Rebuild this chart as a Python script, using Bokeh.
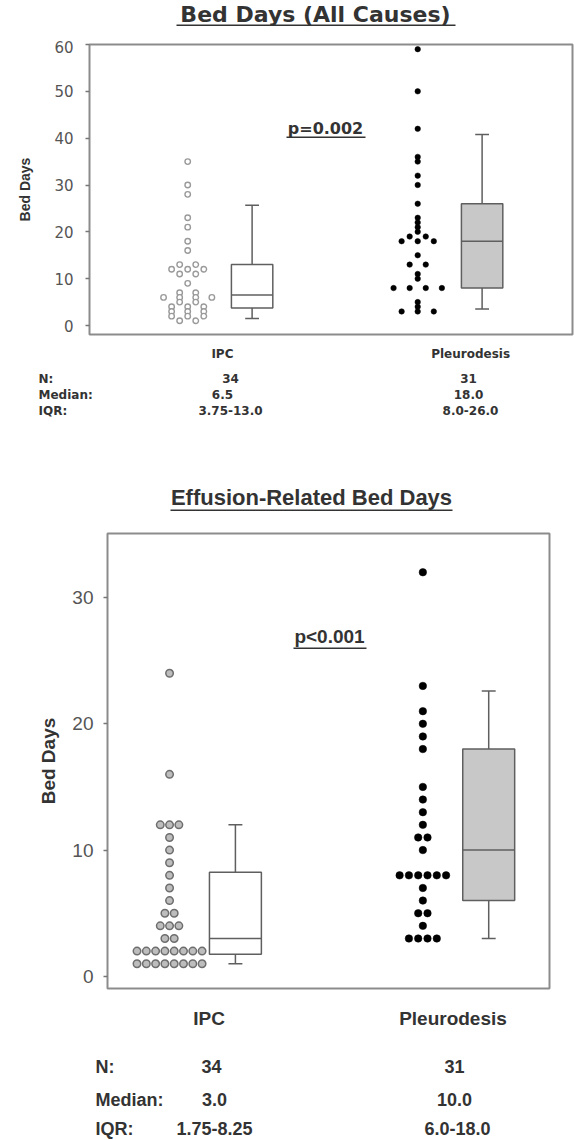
from collections import Counter

from bokeh.plotting import figure
from bokeh.models import Range1d, FixedTicker, Label, BoxAnnotation
from bokeh.layouts import column, row
from bokeh.embed import file_html
from bokeh.resources import INLINE

# ---------------- data ----------------
groups = ["IPC", "Pleurodesis"]

# Panel A: Bed Days (All Causes)
all_ipc = [35, 30, 28, 23, 21, 18, 16, 13, 13, 12, 12, 12, 11, 11, 9, 7, 7,
           6, 6, 6, 6, 5, 5, 4, 4, 4, 3, 3, 3, 2, 2, 2, 1, 1]
all_pleuro = [59, 50, 42, 36, 35, 32, 30, 26, 23, 22, 21, 20, 19, 19, 18, 18,
              18, 15, 13, 13, 11, 10, 8, 8, 8, 8, 5, 4, 3, 3, 3]
all_q1 = [3.75, 8.0]
all_median = [6.5, 18.0]
all_q3 = [13.0, 26.0]
all_whisker_lo = [1.5, 3.5]
all_whisker_hi = [25.7, 40.8]
all_n_text = ["34", "31"]
all_median_text = ["6.5", "18.0"]
all_iqr_text = ["3.75-13.0", "8.0-26.0"]
all_title = "Bed Days (All Causes)"
all_p_text = "p=0.002"
all_yticks = [0, 10, 20, 30, 40, 50, 60]

# Panel B: Effusion-Related Bed Days
eff_ipc = [24, 16, 12, 12, 12, 11, 10, 9, 8, 7, 6, 5, 5, 4, 4, 4, 3, 3,
           2, 2, 2, 2, 2, 2, 2, 2, 1, 1, 1, 1, 1, 1, 1, 1]
eff_pleuro = [32, 23, 21, 20, 19, 18, 15, 14, 13, 12, 11, 11, 10,
              8, 8, 8, 8, 8, 8, 7, 6, 5, 5, 4, 3, 3, 3, 3]
eff_q1 = [1.75, 6.0]
eff_median = [3.0, 10.0]
eff_q3 = [8.25, 18.0]
eff_whisker_lo = [1.0, 3.0]
eff_whisker_hi = [12.0, 22.6]
eff_n_text = ["34", "31"]
eff_median_text = ["3.0", "10.0"]
eff_iqr_text = ["1.75-8.25", "6.0-18.0"]
eff_title = "Effusion-Related Bed Days"
eff_p_text = "p<0.001"
eff_yticks = [0, 10, 20, 30]

row_names = ["N:", "Median:", "IQR:"]

W = 574
INK = "#333333"


def spread(vals, spacing):
    counts = Counter(vals)
    seen = {}
    offs = []
    for v in vals:
        k = seen.get(v, 0)
        seen[v] = k + 1
        offs.append((k - (counts[v] - 1) / 2.0) * spacing)
    return offs


class Panel:
    """A figure plus the page position of its frame's left/bottom edges."""

    def __init__(self, fig, frame_left_page, frame_bottom_page):
        self.fig = fig
        self.fl = frame_left_page
        self.fb = frame_bottom_page

    def text(self, X, Y, text, font, size, align="center", color=INK):
        self.fig.add_layout(Label(x=X - self.fl, y=self.fb - Y,
                                  x_units="screen", y_units="screen",
                                  text=text, text_align=align, text_baseline="middle",
                                  text_font=font, text_font_size=size,
                                  text_font_style="bold", text_color=color))

    def underline(self, X0, X1, Y, thick=1.6, color=INK):
        self.fig.add_layout(BoxAnnotation(left=X0 - self.fl, right=X1 - self.fl,
                                          top=self.fb - Y, bottom=self.fb - Y - thick,
                                          left_units="screen", right_units="screen",
                                          top_units="screen", bottom_units="screen",
                                          fill_color=color, fill_alpha=1.0, line_color=None,
                                          level="overlay"))


def text_panel(h, page_top):
    f = figure(width=W, height=h, output_backend="svg", toolbar_location=None,
               x_range=Range1d(0, W), y_range=Range1d(0, h),
               x_axis_type=None, y_axis_type=None,
               min_border=0, min_border_left=0, min_border_right=0,
               min_border_top=0, min_border_bottom=0)
    f.outline_line_color = None
    f.background_fill_color = "white"
    f.border_fill_color = "white"
    f.grid.visible = False
    return Panel(f, 0, page_top + h)


def plot_panel(cfg):
    h, top = cfg["h"], cfg["page_top"]
    fl, fr, ft, fb = cfg["frame"]          # page coordinates
    p = figure(width=W, height=h, output_backend="svg", toolbar_location=None,
               x_range=Range1d(*cfg["xr"]), y_range=Range1d(*cfg["yr"]),
               min_border_left=fl, min_border_right=W - fr,
               min_border_top=ft - top, min_border_bottom=top + h - fb,
               x_axis_location="below", y_axis_location="left")
    p.grid.visible = False
    p.background_fill_color = "white"
    p.border_fill_color = "white"
    p.outline_line_color = "#8c8c8c"
    p.outline_line_width = 2

    ya = p.yaxis[0]
    ya.ticker = FixedTicker(ticks=cfg["yticks"])
    ya.axis_line_color = None
    ya.major_tick_line_color = "#777777"
    ya.major_tick_line_width = 1.5
    ya.major_tick_out = 4
    ya.major_tick_in = 0
    ya.minor_tick_line_color = None
    ya.major_label_text_font = cfg["tick_font"]
    ya.major_label_text_font_size = cfg["tick_size"]
    ya.major_label_text_color = "#555555"
    ya.major_label_standoff = cfg["tick_standoff"]
    ya.axis_label = "Bed Days"
    ya.axis_label_text_font = cfg["ylab_font"]
    ya.axis_label_text_font_size = cfg["ylab_size"]
    ya.axis_label_text_font_style = "bold"
    ya.axis_label_text_color = INK
    ya.axis_label_standoff = cfg["ylab_standoff"]

    centers = [1.0, 2.0]
    lab_x = [c + s for c, s in zip(centers, cfg["label_shift"])]
    xa = p.xaxis[0]
    xa.ticker = FixedTicker(ticks=lab_x)
    xa.major_label_overrides = {lab_x[0]: groups[0], lab_x[1]: groups[1]}
    xa.axis_line_color = None
    xa.major_tick_line_color = None
    xa.minor_tick_line_color = None
    xa.major_label_text_font = cfg["xlab_font"]
    xa.major_label_text_font_size = cfg["xlab_size"]
    xa.major_label_text_font_style = "bold"
    xa.major_label_text_color = INK
    xa.major_label_standoff = cfg["xlab_standoff"]

    dot_off, box_off = cfg["dot_off"], cfg["box_off"]
    bw, cw = cfg["box_w"], cfg["cap_w"]

    for gi, (vals, style) in enumerate(zip(cfg["values"], cfg["dot_styles"])):
        offs = spread(vals, cfg["dot_spacing"])
        xs = [centers[gi] - dot_off + o for o in offs]
        p.scatter(xs, vals, marker="circle", **style)

    lc, lw = "#5f5f5f", 1.5
    bx = [c + box_off for c in centers]
    p.vbar(x=bx, width=bw, top=cfg["q3"], bottom=cfg["q1"],
           fill_color=cfg["box_fill"], line_color=lc, line_width=lw)
    p.segment(x0=[x - bw / 2 for x in bx], x1=[x + bw / 2 for x in bx],
              y0=cfg["med"], y1=cfg["med"], line_color=lc, line_width=lw)
    p.segment(x0=bx, x1=bx, y0=cfg["q3"], y1=cfg["hi"], line_color=lc, line_width=lw)
    p.segment(x0=bx, x1=bx, y0=cfg["q1"], y1=cfg["lo"], line_color=lc, line_width=lw)
    p.segment(x0=[x - cw / 2 for x in bx], x1=[x + cw / 2 for x in bx],
              y0=cfg["hi"], y1=cfg["hi"], line_color=lc, line_width=lw)
    p.segment(x0=[x - cw / 2 for x in bx], x1=[x + cw / 2 for x in bx],
              y0=cfg["lo"], y1=cfg["lo"], line_color=lc, line_width=lw)

    pan = Panel(p, fl, fb)
    px_, py_ = cfg["p_pos"]
    pan.text(px_, py_, cfg["p_text"], cfg["p_font"], cfg["p_size"])
    pan.underline(*cfg["p_ul"])
    return pan


def table(pan, cfg):
    tl = cfg["table_left"]
    for ri, (name, vals) in enumerate(zip(row_names, cfg["table_vals"])):
        Y = cfg["table_rows"][ri]
        pan.text(tl, Y, name, cfg["table_font"], cfg["table_size"], align="left")
        for ci, v in enumerate(vals):
            pan.text(cfg["table_cols"][ri][ci], Y, v, cfg["table_font"], cfg["table_size"])


top_cfg = dict(
    h=330, page_top=40, frame=(89, 572, 44, 334), xr=(0.433, 2.533), yr=(-1.92, 60.0),
    yticks=all_yticks, tick_font="DejaVu Sans", tick_size="15px", tick_standoff=12,
    ylab_font="Liberation Sans", ylab_size="14px", ylab_standoff=18,
    xlab_font="DejaVu Sans", xlab_size="12px", xlab_standoff=6, label_shift=[0.011, 0.09],
    values=[all_ipc, all_pleuro],
    dot_styles=[dict(size=5.5, fill_color="white", line_color="#9a9a9a", line_width=1.4),
                dict(size=5.5, fill_color="black", line_color="black", line_width=0.5)],
    dot_off=0.14, box_off=0.14, box_w=0.18, cap_w=0.06, dot_spacing=0.07,
    q1=all_q1, med=all_median, q3=all_q3, lo=all_whisker_lo, hi=all_whisker_hi,
    box_fill=["white", "#c8c8c8"],
    p_text=all_p_text, p_pos=(325, 128), p_font="DejaVu Sans", p_size="16px",
    p_ul=(286, 365, 136),
    table_left=38, table_rows=[378, 394, 410],
    table_cols=[[230, 468], [222, 468], [230, 470]],
    table_vals=[all_n_text, all_median_text, all_iqr_text],
    table_font="DejaVu Sans", table_size="12px",
)

bot_cfg = dict(
    h=510, page_top=528, frame=(107, 549, 533, 988), xr=(0.625, 2.37), yr=(-0.96, 35.07),
    yticks=eff_yticks, tick_font="Liberation Sans", tick_size="19px", tick_standoff=10,
    ylab_font="Liberation Sans", ylab_size="19px", ylab_standoff=10,
    xlab_font="Liberation Sans", xlab_size="19px", xlab_standoff=13, label_shift=[0.026, -0.011],
    values=[eff_ipc, eff_pleuro],
    dot_styles=[dict(size=7.5, fill_color="#bdbdbd", line_color="#6e6e6e", line_width=1.5),
                dict(size=7.5, fill_color="black", line_color="black", line_width=0.5)],
    dot_off=0.13, box_off=0.13, box_w=0.205, cap_w=0.055, dot_spacing=0.0367,
    q1=eff_q1, med=eff_median, q3=eff_q3, lo=eff_whisker_lo, hi=eff_whisker_hi,
    box_fill=["white", "#c8c8c8"],
    p_text=eff_p_text, p_pos=(329, 636), p_font="Liberation Sans", p_size="19px",
    p_ul=(293, 366, 647),
    table_left=95, table_rows=[1066, 1099, 1128],
    table_cols=[[211, 454], [214, 454], [214, 457]],
    table_vals=[eff_n_text, eff_median_text, eff_iqr_text],
    table_font="Liberation Sans", table_size="18px",
)

# page strips: title A | plot A | table A + title B | plot B | table B
a_title = text_panel(40, 0)
a_title.text(315, 14, all_title, "DejaVu Sans", "22px")
a_title.underline(176, 455, 24)

a_plot = plot_panel(top_cfg)

a_table = text_panel(158, 370)
table(a_table, top_cfg)
a_table.text(311, 497, eff_title, "Liberation Sans", "22px")
a_table.underline(170, 452, 509)

b_plot = plot_panel(bot_cfg)

b_table = text_panel(102, 1038)
table(b_table, bot_cfg)

layout = column(row(a_title.fig), row(a_plot.fig), row(a_table.fig),
                row(b_plot.fig), row(b_table.fig), spacing=0)

open("out.html", "w").write(file_html(layout, INLINE))
